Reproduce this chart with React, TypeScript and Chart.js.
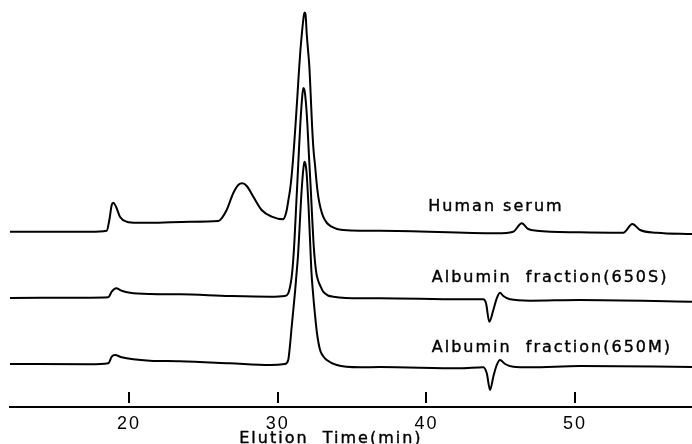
import React, { useEffect, useRef } from "react";
import { Chart, registerables } from "chart.js";

Chart.register(...registerables);

// Elution time (min) and detector response (arbitrary units)
const serumTime = [12.0, 17.38, 18.5, 18.68, 18.84, 18.94, 19.13, 19.39, 19.85, 20.52, 21.41, 24.1, 26.01, 26.23, 26.57, 27.01, 27.35, 27.62, 27.92, 28.36, 28.92, 29.6, 30.38, 30.49, 30.61, 30.71, 30.83, 30.93, 31.03, 31.13, 31.23, 31.33, 31.43, 31.53, 31.63, 31.72, 31.8, 31.87, 31.95, 32.04, 32.13, 32.22, 32.31, 32.41, 32.51, 32.62, 32.73, 32.88, 33.06, 33.31, 33.63, 33.99, 34.41, 35.53, 36.88, 44.73, 45.84, 46.41, 46.85, 47.42, 50.33, 53.24, 53.85, 54.37, 55.49, 57.86];
const serumSignal = [173.3, 173.3, 174.3, 185, 200, 202.3, 198.3, 188.3, 183.3, 182.3, 182.3, 183.3, 184, 186.7, 195, 211.7, 220, 221.7, 219, 208.3, 195, 188.3, 185.7, 188.5, 195, 204, 215, 228, 245, 265, 287, 310, 334, 355, 372, 385, 392.5, 391, 371.7, 355, 338.3, 310, 280, 255, 240, 222, 208.3, 197, 188.3, 182, 178.3, 176, 175, 174.3, 174.3, 171.7, 173.3, 181.7, 176, 174.3, 172.7, 172.3, 181, 175, 172.3, 171];

const frac650STime = [12.0, 17.38, 18.61, 18.84, 19.13, 19.51, 20.07, 21.41, 23.43, 26.79, 29.48, 30.49, 30.71, 30.83, 30.94, 31.03, 31.13, 31.23, 31.33, 31.43, 31.53, 31.63, 31.72, 31.8, 31.9, 32.0, 32.1, 32.21, 32.31, 32.41, 32.51, 32.61, 32.73, 32.87, 33.06, 33.38, 33.74, 35.53, 36.88, 42.26, 43.83, 44.01, 44.23, 44.5, 44.73, 44.95, 45.17, 45.62, 46.97, 50.33, 57.86];
const frac650SSignal = [107, 107.3, 107.7, 113.3, 116.7, 114.3, 112.3, 111, 110.7, 109, 108.3, 109, 111.7, 118, 128, 142, 165, 195, 225, 255, 283, 305, 317, 315, 302, 280, 250, 220, 190, 162, 143, 131, 124, 119, 113.3, 109.5, 108.3, 106.7, 106.7, 105.7, 105.7, 101.7, 83.3, 95, 106.7, 112.3, 109, 105.7, 104.3, 105, 103.3];

const frac650MTime = [12.0, 17.38, 18.61, 18.84, 19.06, 19.51, 20.29, 21.41, 23.43, 26.79, 29.48, 30.49, 30.71, 30.83, 30.94, 31.05, 31.16, 31.26, 31.37, 31.47, 31.57, 31.67, 31.74, 31.8, 31.87, 31.94, 32.0, 32.07, 32.14, 32.21, 32.27, 32.37, 32.51, 32.64, 32.85, 33.05, 33.3, 33.97, 35.53, 36.88, 42.26, 43.83, 44.06, 44.28, 44.5, 44.73, 44.95, 45.29, 45.84, 46.97, 50.33, 57.86];
const frac650MSignal = [41, 40.7, 41.7, 48.3, 50, 47.7, 45.7, 44.3, 43.7, 41.7, 40, 41, 45, 60, 78, 95, 112, 130, 150, 177, 205, 227, 238, 243.3, 241, 233, 219, 200, 177, 153, 133, 113, 90, 72, 55, 49, 45, 40, 37.7, 38, 36.7, 37.7, 31.7, 15, 28.3, 40, 45, 41, 38.3, 37.7, 39, 38];

const tickValues = [20, 30, 40, 50];
const traceNames = ["Human serum", "Albumin  fraction(650S)", "Albumin  fraction(650M)"];
const labelTime = [40.13, 40.36, 40.36];
const labelSignal = [194.3, 122.7, 52.7];
const axisTitle = "Elution  Time(min)";
const axisTitleTime = 33.58;

export default function App() {
  const ref = useRef<HTMLCanvasElement>(null);

  useEffect(() => {
    const canvas = ref.current;
    if (!canvas) return;
    const toPts = (t: number[], s: number[]) => t.map((x, i) => ({ x, y: s[i] }));

    const spacing = {
      id: "spacing",
      beforeDraw(chart: any) {
        chart.ctx.letterSpacing = "2px";
      },
    };

    const annot = {
      id: "annot",
      afterDraw(chart: any) {
        const { ctx, chartArea } = chart;
        const x = chart.scales.x;
        const y = chart.scales.y;
        ctx.save();
        ctx.strokeStyle = "#000";
        ctx.lineWidth = 2;
        tickValues.forEach((v) => {
          const px = Math.round(x.getPixelForValue(v));
          ctx.beginPath();
          ctx.moveTo(px, chartArea.bottom - 15);
          ctx.lineTo(px, chartArea.bottom - 4);
          ctx.stroke();
        });
        ctx.fillStyle = "#000";
        ctx.font = '16px "DejaVu Sans"';
        ctx.letterSpacing = "2px";
        ctx.lineWidth = 0.4;
        ctx.textAlign = "left";
        ctx.textBaseline = "alphabetic";
        traceNames.forEach((n, i) => {
          const px = x.getPixelForValue(labelTime[i]);
          const py = y.getPixelForValue(labelSignal[i]);
          ctx.fillText(n, px, py);
          ctx.strokeText(n, px, py);
        });
        ctx.textAlign = "center";
        const tx = x.getPixelForValue(axisTitleTime);
        const ty = chartArea.bottom + 36;
        ctx.fillText(axisTitle, tx, ty);
        ctx.strokeText(axisTitle, tx, ty);
        ctx.restore();
      },
    };

    const chart = new Chart(canvas, {
      type: "line",
      data: {
        datasets: [
          { label: traceNames[0], data: toPts(serumTime, serumSignal) },
          { label: traceNames[1], data: toPts(frac650STime, frac650SSignal) },
          { label: traceNames[2], data: toPts(frac650MTime, frac650MSignal) },
        ],
      },
      options: {
        animation: false,
        responsive: false,
        layout: { padding: { left: 10, right: 0, top: 0, bottom: 3 } },
        plugins: { legend: { display: false }, tooltip: { enabled: false } },
        elements: {
          point: { radius: 0 },
          line: { borderWidth: 2, borderColor: "#000", cubicInterpolationMode: "monotone", fill: false },
        },
        scales: {
          x: {
            type: "linear",
            min: 12,
            max: 57.86,
            afterBuildTicks: (s: any) => {
              s.ticks = tickValues.map((v) => ({ value: v }));
            },
            grid: { display: false, drawTicks: false, tickLength: 0 },
            border: { display: true, color: "#000", width: 2 },
            ticks: {
              color: "#000",
              padding: 8,
              autoSkip: false,
              maxRotation: 0,
              font: { family: '"Liberation Sans", sans-serif', size: 18, lineHeight: 1 },
            },
            title: { display: false },
          },
          y: { display: false, min: -2, max: 405 },
        },
      } as any,
      plugins: [spacing, annot],
    });
    return () => chart.destroy();
  }, []);

  return (
    <div style={{ position: "absolute", left: 0, top: 0, width: 692, height: 444, background: "#fff" }}>
      <canvas ref={ref} width={692} height={444} style={{ display: "block" }} />
    </div>
  );
}
